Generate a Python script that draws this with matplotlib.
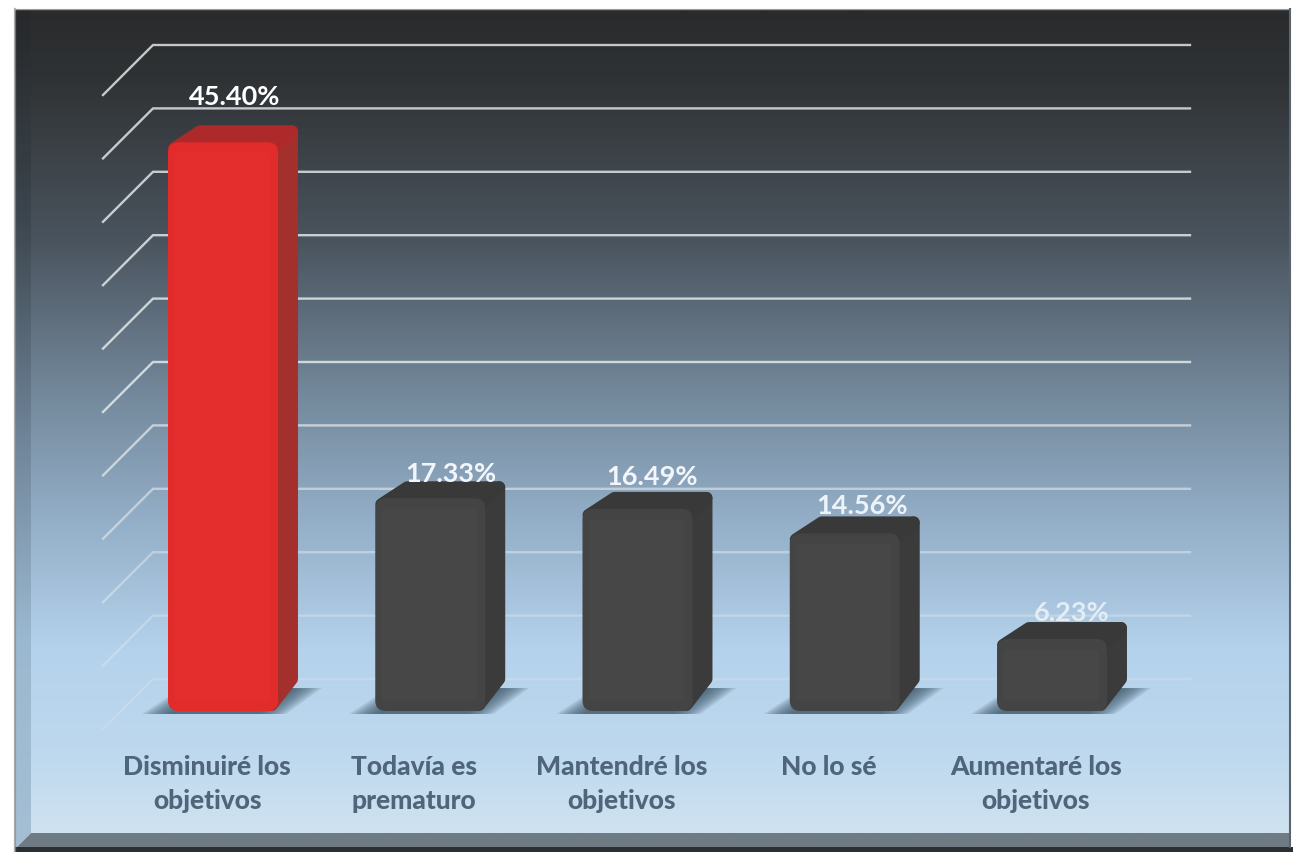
import numpy as np
import matplotlib
matplotlib.use("Agg")
import matplotlib.pyplot as plt
from matplotlib.colors import LinearSegmentedColormap
from matplotlib.patches import FancyBboxPatch, Polygon

categories = ["Disminuiré los\nobjetivos", "Todavía es\nprematuro", "Mantendré los\nobjetivos",
              "No lo sé", "Aumentaré los\nobjetivos"]
values = [45.40, 17.33, 16.49, 14.56, 6.23]
value_labels = ["45.40%", "17.33%", "16.49%", "14.56%", "6.23%"]
grid_values = [0, 5, 10, 15, 20, 25, 30, 35, 40, 45, 50]

W, H = 1293, 853
PX_X = 207.25   # pixels per category
PX_Y = 12.68    # pixels per percent
X0, Y0 = 223, 680  # pixel of category 0 and of grid value 0

plt.rcParams["font.family"] = ["Lato", "DejaVu Sans"]
fig = plt.figure(figsize=(W / 100, H / 100), dpi=100, facecolor="white")

# panel behind the chart
bg = fig.add_axes([0, 0, 1, 1], zorder=0)
bg.axis("off")
stops = [(0.0, "#2a2b2d"), (0.08, "#2f3234"), (0.28, "#4a545e"), (0.47, "#74899c"),
         (0.62, "#93aec7"), (0.78, "#b5d2ec"), (0.90, "#bdd8ee"), (1.0, "#cfe2f0")]
cmap = LinearSegmentedColormap.from_list("wall", stops)
grad = np.linspace(0, 1, 400).reshape(-1, 1)
bg.imshow(grad, cmap=cmap, extent=(15, 1290, 834, 10), aspect="auto", zorder=1)
strip = bg.imshow(grad, cmap=LinearSegmentedColormap.from_list("strip", ["#26282a", "#3c464e", "#6d8296", "#9ab8d0", "#a4bfd4"]),
                  extent=(15, 31, 850, 10), aspect="auto", zorder=2)
strip.set_clip_path(Polygon([(15, 10), (31, 10), (31, 834), (15, 850)], transform=bg.transData))
bg.add_patch(Polygon([(31, 834), (1290, 834), (1290, 848), (17, 848)], fc="#6f7b83", ec="none", zorder=3))
bg.add_patch(Polygon([(15, 848), (1293, 848), (1293, 853), (15, 853)], fc="#2b2f31", ec="none", zorder=3))
bg.plot([15, 15], [10, 853], color="#8a8a8a", lw=1.6, alpha=0.7, zorder=4)
bg.plot([15, 1290], [10, 10], color="#cfcfcf", lw=1, alpha=0.7, zorder=4)
bg.plot([1290, 1290], [10, 848], color="#59646c", lw=1.5, zorder=4)
bg.set_xlim(0, W)
bg.set_ylim(H, 0)

# chart axes laid over the whole figure
ax = fig.add_axes([0, 0, 1, 1], zorder=1)
ax.patch.set_alpha(0)
ax.axis("off")
ax.set_xlim((0 - X0) / PX_X, (W - X0) / PX_X)
ax.set_ylim((Y0 - H) / PX_Y, Y0 / PX_Y)

wall_dx, wall_dy = 50 / PX_X, 50 / PX_Y
x_wall, x_end = (153 - X0) / PX_X, (1190 - X0) / PX_X
for g in grid_values:
    alpha = 0.22 + 0.58 * min(g / 25, 1)
    ax.plot([x_wall - wall_dx, x_wall, x_end], [g - wall_dy, g, g], color="#eceff0",
            lw=1.7, alpha=alpha, solid_joinstyle="miter", zorder=2)

# bars, with a fake 3d look
bar_w = 110 / PX_X
dx, dy = 20 / PX_X, 17 / PX_Y
shift = -22 / PX_Y       # bars stand in front of the back wall
floor = -32 / PX_Y       # bottom of the front face
aspect = PX_X / PX_Y
rx, ry = 6 / PX_X, 6 / PX_Y  # inset for the round joined outline

for i, v in enumerate(values):
    red = i == 0
    front = "#e22b2b" if red else "#444444"
    inner = "#e42d2d" if red else "#474747"
    top_c = "#ae2a2a" if red else "#393939"
    side = "#a4302d" if red else "#3b3b3b"
    xl, xr = i - bar_w / 2, i + bar_w / 2
    top = v + shift - dy

    # shadow on the floor
    for k in range(10):
        grow = (9 - k) * 3 / PX_X
        ax.add_patch(Polygon([(xl - 26 / PX_X + grow, floor - 3 / PX_Y), (xl + 12 / PX_X + grow, floor + 22 / PX_Y),
                              (xr + 44 / PX_X - grow, floor + 23 / PX_Y), (xr + 8 / PX_X - grow, floor - 3 / PX_Y)],
                             fc="#3b5566", ec="none", alpha=0.14, zorder=3))

    # side and top share one rounded outline
    ax.add_patch(Polygon([(xr - 0.04, top), (xr + dx - rx, top + dy - ry), (xr + dx - rx, floor + 32 / PX_Y),
                          (xr - 0.03, floor + ry)], fc=side, ec=side, lw=8.6, joinstyle="round", zorder=4))
    ax.add_patch(Polygon([(xl + rx, top - ry), (xl + dx + 2 * rx, top + dy - ry), (xr + dx - rx, top + dy - ry), (xr - 0.02, top - ry)],
                         fc=top_c, ec=top_c, lw=8.6, joinstyle="round", zorder=4))
    ax.add_patch(FancyBboxPatch((xl, floor), bar_w, top - floor, boxstyle="round,pad=0,rounding_size=0.05",
                                mutation_aspect=aspect, fc=front, ec="none", zorder=5))
    ax.add_patch(FancyBboxPatch((xl + 0.03, floor + 0.8), bar_w - 0.07, top - floor - 1.6,
                                boxstyle="round,pad=0,rounding_size=0.02", mutation_aspect=aspect,
                                fc=inner, ec="none", zorder=6))

# value labels, each sits a bit differently over its bar
label_dx = [12, 21, 15, 17, 20]
label_gap = [17, -4, 4, -1, -2]
label_colors = ["white", "#f2f6fa", "#f2f6fa", "#eef3f8", "#e3edf5"]
for i, v in enumerate(values):
    ax.annotate(value_labels[i], (i, v + shift), xytext=(label_dx[i] * 0.72, label_gap[i] * 0.72),
                textcoords="offset points", ha="center", va="bottom", fontsize=19.5,
                fontweight="bold", color=label_colors[i], zorder=7)

# category labels
for i, c in enumerate(categories):
    ax.text(i - 16 / PX_X, (Y0 - 755) / PX_Y, c, ha="center", va="top", fontsize=19,
            fontweight="black", color="#4f6579", linespacing=1.5, zorder=7)

fig.savefig("out.png", dpi=100)
